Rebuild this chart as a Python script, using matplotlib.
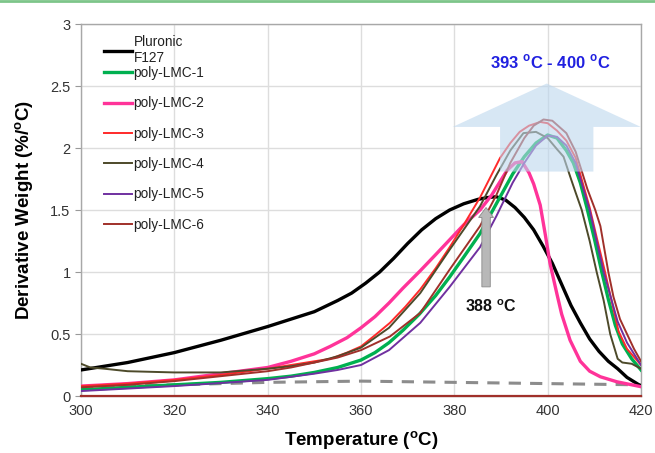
import matplotlib
matplotlib.use("Agg")
import matplotlib.pyplot as plt
from matplotlib.patches import FancyArrow
from matplotlib.lines import Line2D

plt.rcParams['font.family'] = ['Liberation Sans', 'DejaVu Sans']
plt.rcParams['mathtext.fontset'] = 'custom'
plt.rcParams['mathtext.rm'] = 'Liberation Sans'
plt.rcParams['mathtext.bf'] = 'Liberation Sans:bold'

# ---- data ----
t_f127 = [300, 310, 320, 330, 340, 345, 350, 355, 358, 361, 364, 367, 370, 373, 376, 379, 382, 385, 387, 389,
          391, 393, 395, 397, 399, 401, 403, 405, 407, 409, 411, 413, 415, 417, 420]
y_f127 = [0.21, 0.27, 0.35, 0.45, 0.56, 0.62, 0.68, 0.77, 0.83, 0.91, 1.00, 1.11, 1.23, 1.34, 1.43, 1.50, 1.55, 1.585, 1.60, 1.607,
          1.58, 1.52, 1.44, 1.34, 1.21, 1.07, 0.90, 0.73, 0.59, 0.46, 0.36, 0.28, 0.22, 0.15, 0.08]

t_l1 = [300, 310, 320, 330, 340, 345, 350, 355, 360, 363, 366, 369, 372.5, 376, 379, 382, 385.5, 389, 392.5, 395,
        397.5, 400, 402, 404, 405.5, 407, 408.4, 410, 411.6, 413, 414.5, 416, 418, 420]
y_l1 = [0.05, 0.07, 0.09, 0.11, 0.14, 0.16, 0.19, 0.23, 0.29, 0.35, 0.43, 0.53, 0.66, 0.81, 0.96, 1.12, 1.31, 1.55, 1.79, 1.93,
        2.04, 2.105, 2.08, 1.98, 1.88, 1.72, 1.52, 1.27, 1.00, 0.78, 0.57, 0.42, 0.30, 0.21]

t_l2 = [300, 310, 320, 330, 340, 345, 350, 353.4, 357, 360, 363, 366, 369, 372.7, 376, 379, 382, 385.5, 388, 391.3,
        393, 394.5, 396, 397, 398.4, 399.5, 400.5, 402, 403, 404.8, 407, 409, 411.3, 414.8, 420]
y_l2 = [0.08, 0.10, 0.13, 0.18, 0.23, 0.28, 0.34, 0.40, 0.47, 0.55, 0.64, 0.75, 0.87, 1.01, 1.14, 1.26, 1.38, 1.50, 1.62, 1.82,
        1.88, 1.89, 1.80, 1.71, 1.54, 1.30, 1.07, 0.82, 0.66, 0.45, 0.28, 0.20, 0.155, 0.115, 0.075]

t_l3 = [300, 310, 320, 330, 340, 345, 350, 353.4, 357, 360, 363, 366.2, 369.5, 372.7, 376, 379, 382, 385.5, 389.8, 392,
        394, 396, 398.4, 400, 402, 404, 406, 407.5, 409, 410.5, 412.3, 413.8, 415.2, 417, 420]
y_l3 = [0.08, 0.10, 0.13, 0.17, 0.22, 0.25, 0.28, 0.30, 0.35, 0.40, 0.49, 0.59, 0.72, 0.86, 1.03, 1.20, 1.38, 1.60, 1.92, 2.04,
        2.13, 2.18, 2.21, 2.20, 2.14, 2.06, 1.92, 1.72, 1.52, 1.28, 1.00, 0.75, 0.52, 0.38, 0.25]

t_l4 = [300, 302, 305, 310, 320, 330, 340, 345, 350, 355, 360, 366, 372.7, 379, 385.5, 389, 392, 394.8, 397.5, 400,
        402, 403.4, 405, 406, 407.3, 409, 410.5, 412, 413.4, 415, 416, 418, 420]
y_l4 = [0.26, 0.23, 0.22, 0.20, 0.19, 0.19, 0.22, 0.24, 0.27, 0.32, 0.39, 0.55, 0.83, 1.18, 1.53, 1.78, 1.98, 2.12, 2.13, 2.08,
        1.99, 1.93, 1.75, 1.64, 1.50, 1.25, 1.00, 0.77, 0.50, 0.30, 0.27, 0.26, 0.22]

t_l5 = [300, 320, 340, 350, 355, 360, 366, 372.7, 379, 385.5, 389, 392.5, 395, 397.5, 400, 402, 404, 406, 409, 412,
        413.5, 415, 417, 420]
y_l5 = [0.04, 0.08, 0.13, 0.18, 0.21, 0.25, 0.37, 0.59, 0.88, 1.20, 1.45, 1.72, 1.88, 2.02, 2.10, 2.09, 2.02, 1.88, 1.50, 1.00,
        0.80, 0.60, 0.43, 0.25]

t_l6 = [300, 310, 320, 330, 340, 345, 350, 355, 360, 366.2, 372.7, 379, 385.5, 389, 392, 395, 397, 399.1, 401, 404,
        406, 408.5, 410.2, 411.3, 413, 414.1, 415.5, 417, 418.5, 420]
y_l6 = [0.07, 0.09, 0.12, 0.16, 0.20, 0.23, 0.27, 0.31, 0.37, 0.48, 0.67, 1.02, 1.37, 1.62, 1.88, 2.08, 2.18, 2.23, 2.22, 2.12,
        1.97, 1.67, 1.50, 1.37, 1.00, 0.80, 0.62, 0.50, 0.38, 0.28]

t_dash = [300, 320, 340, 360, 380, 400, 420]
y_dash = [0.07, 0.09, 0.11, 0.12, 0.11, 0.10, 0.09]

t_base = [300, 420]
y_base = [0.0, 0.0]

x_ticks = [300, 320, 340, 360, 380, 400, 420]
y_ticks = [0, 0.5, 1, 1.5, 2, 2.5, 3]
y_ticklabels = ['0', '0.5', '1', '1.5', '2', '2.5', '3']

# ---- figure ----
fig = plt.figure(figsize=(6.55, 4.53), dpi=100)
ax = fig.add_axes([81/655, 1-396/453, 560/655, 372/453])

ax.plot(t_base, y_base, color='#a0302a', lw=1.6, zorder=3, clip_on=False)
ax.plot(t_dash, y_dash, color='#8c8c8c', lw=2.2, ls=(0, (4, 3)), zorder=3)

l_f = ax.plot(t_f127, y_f127, color='black', lw=2.4, zorder=4)[0]
l1 = ax.plot(t_l1, y_l1, color='#00b050', lw=2.4, zorder=4)[0]
l2 = ax.plot(t_l2, y_l2, color='#ff3399', lw=2.4, zorder=4)[0]
l3 = ax.plot(t_l3, y_l3, color='#ff2a2a', lw=1.4, zorder=4)[0]
l4 = ax.plot(t_l4, y_l4, color='#4d4a2a', lw=1.4, zorder=4)[0]
l5 = ax.plot(t_l5, y_l5, color='#7030a0', lw=1.4, zorder=4)[0]
l6 = ax.plot(t_l6, y_l6, color='#a0302a', lw=1.4, zorder=4)[0]

# arrows
big = FancyArrow(399.8, 1.81, 0, 0.71, width=20, head_width=40.3, head_length=0.35,
                 length_includes_head=True, color='#bdd7ee', alpha=0.6, lw=0, zorder=5)
ax.add_patch(big)
small = FancyArrow(386.8, 0.88, 0, 0.64, width=1.8, head_width=3.2, head_length=0.08,
                   length_includes_head=True, facecolor='#b8b8b8', edgecolor='#8a8a8a', lw=0.6, zorder=5)
ax.add_patch(small)

ax.text(400.5, 2.69, r'393 $^{\mathbf{o}}$C - 400 $^{\mathbf{o}}$C', color='#2020e0', fontsize=12,
        fontweight='bold', ha='center', va='center', zorder=6)
ax.text(387.8, 0.72, r'388 $^{\mathbf{o}}$C', color='#111111', fontsize=11.5, fontweight='bold',
        ha='center', va='center', zorder=6)

ax.set_xlim(300, 420)
ax.set_ylim(0, 3)
ax.set_xticks(x_ticks)
ax.set_yticks(y_ticks)
ax.set_yticklabels(y_ticklabels)
ax.tick_params(axis='both', labelsize=10.5, colors='#333333', length=4, color='#999999')
ax.tick_params(axis='x', length=0, pad=6)
ax.grid(True, color='#dddddd', lw=1)
ax.set_axisbelow(True)
for s in ax.spines.values():
    s.set_color('#a8a8a8')
    s.set_linewidth(1)

ax.set_xlabel(r'Temperature ($^{\mathbf{o}}$C)', fontsize=13.5, fontweight='bold', labelpad=8)
ax.set_ylabel(r'Derivative Weight (%/$^{\mathbf{o}}$C)', fontsize=13.5, fontweight='bold', labelpad=10)

leg1 = ax.legend([l_f], ['Pluronic\nF127'], loc='upper left', bbox_to_anchor=(0.027, 0.993),
                 frameon=False, fontsize=9.8, handlelength=2.0, handletextpad=0.15,
                 borderaxespad=0.2, labelcolor='#222222')
ax.add_artist(leg1)
ax.legend([l1, l2, l3, l4, l5, l6],
          ['poly-LMC-1', 'poly-LMC-2', 'poly-LMC-3', 'poly-LMC-4', 'poly-LMC-5', 'poly-LMC-6'],
          loc='upper left', bbox_to_anchor=(0.027, 0.909), frameon=False, fontsize=9.8,
          handlelength=2.0, handletextpad=0.15, labelspacing=1.2, borderaxespad=0.2,
          labelcolor='#222222')

fig.add_artist(Line2D([0, 1], [0.998, 0.998], transform=fig.transFigure, color='#7dc58a', lw=2))

fig.savefig('out.png', dpi=100)
